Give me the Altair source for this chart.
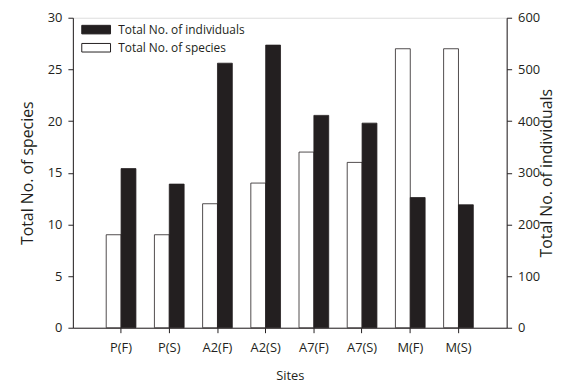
import altair as alt
import pandas as pd

sites = ["P(F)", "P(S)", "A2(F)", "A2(S)", "A7(F)", "A7(S)", "M(F)", "M(S)"]
species = [9, 9, 12, 14, 17, 16, 27, 27]
individuals = [308, 278, 512, 547, 411, 396, 252, 238]

S_NAME = "Total No. of species"
I_NAME = "Total No. of individuals"

df_s = pd.DataFrame({"site": sites, "value": species, "series": S_NAME})
df_i = pd.DataFrame({"site": sites, "value": individuals, "series": I_NAME})

INK = "#231f20"
FONT = "Open Sans"

x_enc = alt.X(
    "site:N",
    sort=sites,
    scale=alt.Scale(paddingInner=0, paddingOuter=0.5),
    axis=alt.Axis(
        title="Sites", labelAngle=0, tickSize=5, labelPadding=9,
        labelFontSize=13, titleFontSize=13, titlePadding=15,
        titleFontWeight="normal", domainColor=INK, tickColor=INK,
        labelColor=INK, titleColor=INK, labelFont=FONT, titleFont=FONT,
    ),
)

fill_enc = alt.Fill(
    "series:N",
    scale=alt.Scale(domain=[I_NAME, S_NAME], range=[INK, "#ffffff"]),
    legend=alt.Legend(
        title=None, orient="none", legendX=17, legendY=5.5, padding=0,
        symbolType="M-2.42,-0.72H2.42V0.72H-2.42Z", symbolSize=144,
        symbolStrokeColor=INK, symbolStrokeWidth=1,
        labelFontSize=12, labelFont=FONT, labelColor=INK,
        rowPadding=5.3, labelOffset=15.8,
    ),
)

white = alt.Chart(df_s).mark_bar(
    width=15, xOffset=-7.5, stroke=INK, strokeWidth=0.8
).encode(
    x=x_enc,
    y=alt.Y(
        "value:Q",
        scale=alt.Scale(domain=[0, 30], nice=False),
        axis=alt.Axis(
            title=S_NAME, orient="left", values=[0, 5, 10, 15, 20, 25, 30],
            grid=False, tickSize=5, labelPadding=6, labelFontSize=13,
            titleFontSize=16, titlePadding=12, titleFontWeight="normal",
            domainColor=INK, tickColor=INK, labelColor=INK, titleColor=INK,
            labelFont=FONT, titleFont=FONT,
        ),
    ),
    fill=fill_enc,
)

black = alt.Chart(df_i).mark_bar(
    width=15, xOffset=7.5, stroke=INK, strokeWidth=0.8
).encode(
    x=x_enc,
    y=alt.Y(
        "value:Q",
        scale=alt.Scale(domain=[0, 600], nice=False),
        axis=alt.Axis(
            title=I_NAME, orient="right", values=[0, 100, 200, 300, 400, 500, 600],
            grid=False, tickSize=5, labelPadding=6, labelFontSize=13,
            titleFontSize=16, titlePadding=15, titleFontWeight="normal",
            titleAngle=270,
            domainColor=INK, tickColor=INK, labelColor=INK, titleColor=INK,
            labelFont=FONT, titleFont=FONT,
        ),
    ),
    fill=fill_enc,
)

chart = (
    alt.layer(white, black)
    .resolve_scale(y="independent")
    .properties(
        width=438, height=313,
        autosize=alt.AutoSizeParams(type="none"),
        padding={"left": 65.5, "top": 8, "right": 70, "bottom": 57},
    )
    .configure_view(stroke=INK, strokeWidth=1)
    .configure(background="white")
)

chart.save("out.html", embed_options={"renderer": "svg", "actions": False})
